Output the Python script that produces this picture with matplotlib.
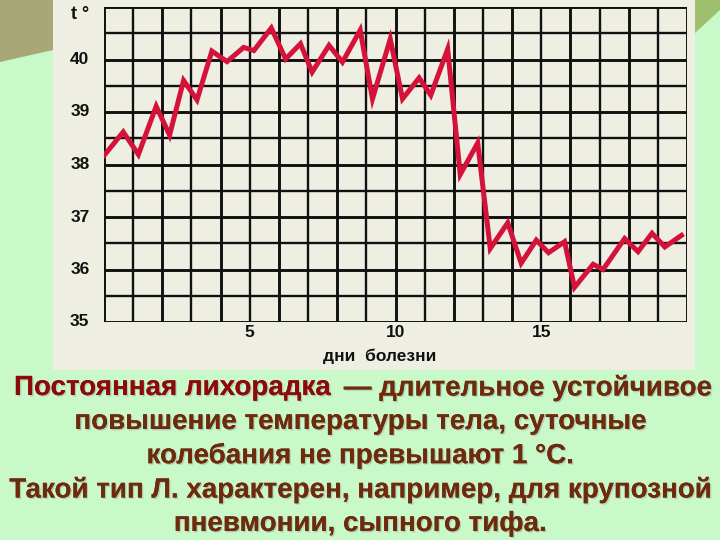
import numpy as np
import matplotlib.pyplot as plt
import matplotlib.patheffects as pe
from matplotlib.patches import Rectangle, Polygon

# day of illness (morning / evening readings) and body temperature
days = [0.0, 0.66, 1.18, 1.79, 2.25, 2.73, 3.19, 3.70, 4.22, 4.79,
        5.14, 5.74, 6.23, 6.74, 7.14, 7.72, 8.18, 8.79, 9.21, 9.82,
        10.24, 10.81, 11.21, 11.79, 12.22, 12.82, 13.25, 13.85, 14.31, 14.83,
        15.25, 15.80, 16.14, 16.78, 17.12, 17.86, 18.32, 18.80, 19.24, 19.81]
temp = [38.17, 38.62, 38.19, 39.11, 38.56, 39.60, 39.23, 40.16, 39.96, 40.23,
        40.17, 40.60, 40.01, 40.30, 39.76, 40.27, 39.95, 40.56, 39.25, 40.39,
        39.25, 39.65, 39.32, 40.20, 37.81, 38.41, 36.40, 36.89, 36.12, 36.56,
        36.32, 36.53, 35.66, 36.10, 36.00, 36.59, 36.34, 36.69, 36.43, 36.65]

y_labels = [35, 36, 37, 38, 39, 40]
x_labels = [5, 10, 15]

text_lines = [
    "повышение температуры тела, суточные",
    "колебания не превышают 1 °С.",
    "Такой тип Л. характерен, например, для крупозной",
    "пневмонии, сыпного тифа.",
]

fig = plt.figure(figsize=(7.2, 5.4), dpi=100)
fig.patch.set_facecolor('#C9F8C9')

# light panel behind the chart
fig.patches.append(Rectangle((53/720, 1-370/540), 642/720, 370/540,
                             transform=fig.transFigure, facecolor='#EEEEE3',
                             edgecolor='none', zorder=-2))
# decorative corners
fig.patches.append(Polygon([(0, 1), (53/720, 1), (53/720, 1-50/540), (0, 1-62/540)],
                           closed=True, transform=fig.transFigure,
                           facecolor='#A8A877', edgecolor='none', zorder=-2))
fig.patches.append(Polygon([(695/720, 1), (1, 1), (1, 1-10/540), (695/720, 1-33/540)],
                           closed=True, transform=fig.transFigure,
                           facecolor='#9DBF6E', edgecolor='none', zorder=-2))

ax = fig.add_axes([104/720, 1-322/540, 583/720, 315/540])
ax.set_zorder(2)
ax.set_facecolor('#EEEEE3')
ax.set_xlim(0, 20)
ax.set_ylim(35, 41)

for d in range(0, 21):
    ax.axvline(d, color='#111111', lw=1.7 if d % 2 else 2.1, zorder=1)
for t in np.arange(35, 41.01, 0.5):
    ax.axhline(t, color='#111111', lw=1.7 if t % 1 else 2.1, zorder=1)

ax.plot(days, temp, color='#D4123A', lw=3.6, solid_joinstyle='miter', zorder=3)

for s in ax.spines.values():
    s.set_visible(False)
ax.set_xticks([])
ax.set_yticks([])

lab = dict(fontweight='bold', family='Liberation Sans', color='#111111')
for v in y_labels:
    ax.text(-0.5, v, str(v), ha='right', va='center', fontsize=12.5, **lab)
ax.text(-0.5, 40.85, 't °', ha='right', va='center', fontsize=13, **lab)
for v in x_labels:
    ax.text(v, 34.8, str(v), ha='center', va='center', fontsize=12.5, **lab)
ax.text(9.45, 34.34, 'дни  болезни', ha='center', va='center', fontsize=12.5, **lab)

shadow = [pe.withSimplePatchShadow(offset=(1.0, -1.0), shadow_rgbFace='#9AAA9A', alpha=0.5),
          pe.Normal()]
font = dict(fontsize=20, fontweight='bold', family='Liberation Sans')

t1 = fig.text(14/720, 1-388/540, 'Постоянная лихорадка', ha='left', va='center',
              color='#8E0A0A', path_effects=shadow, **font)
fig.canvas.draw()
bb = t1.get_window_extent()
fig.text(bb.x1/720 + 0.018, 1-388/540, '— длительное устойчивое', ha='left',
         va='center', color='#6E2A0C', path_effects=shadow, **font)

for i, line in enumerate(text_lines):
    fig.text(0.5, 1-(422 + 34*i)/540, line, ha='center', va='center',
             color='#6E2A0C', path_effects=shadow, **font)

fig.savefig('out.png', dpi=100, facecolor=fig.get_facecolor())
